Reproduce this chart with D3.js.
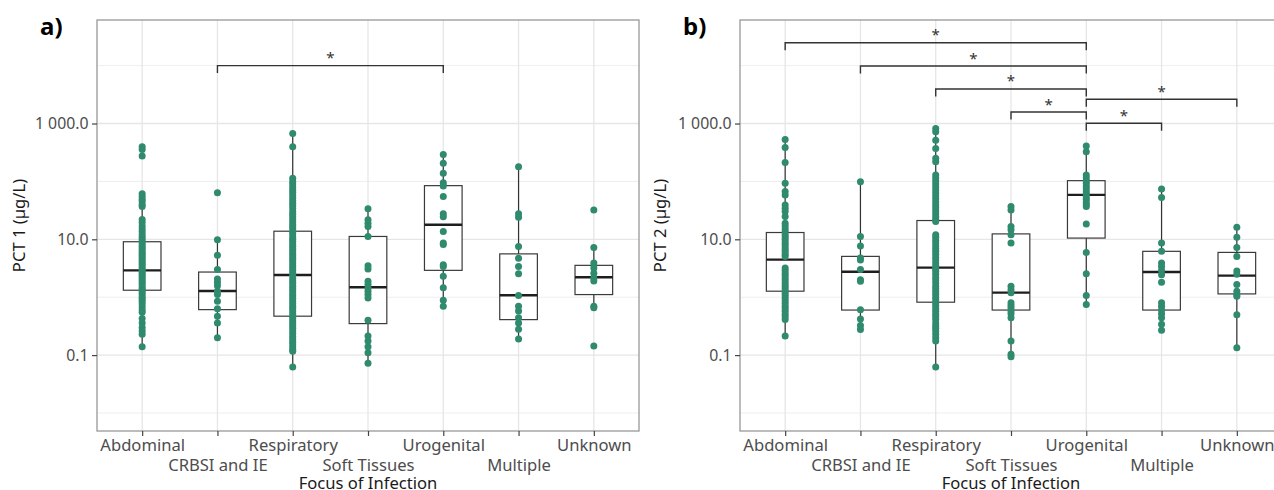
<!DOCTYPE html>
<html><head><meta charset="utf-8">
<script src="https://cdn.jsdelivr.net/npm/d3@7"></script>
<style>
body{margin:0;background:#fff}
svg{display:block}
text{font-family:"Noto Sans",sans-serif}
</style>
</head><body>
<svg id="chart" width="1274" height="490"></svg>
<script>
// ---------- categories & ticks ----------
const categories = ["Abdominal","CRBSI and IE","Respiratory","Soft Tissues","Urogenital","Multiple","Unknown"];
const yTickValues = [0.1, 10, 1000];
const yTickLabels = ["0.1", "10.0", "1 000.0"];
const yMinorValues = [0.01, 1, 100, 10000];

// ---------- PCT 1 points (µg/L) ----------
const pct1Abdominal = [396,357,274,61,55,49,45,40,37,22,19.5,17,15,13.5,12,10.8,9.8,9,8.3,7.6,7,6.4,5.9,5.5,5.1,4.7,4.3,4,3.7,3.4,3.1,2.9,2.7,2.5,2.3,2.1,1.95,1.8,1.65,1.5,1.4,1.3,1.2,1.1,1.0,0.92,0.84,0.76,0.68,0.6,0.55,0.43,0.36,0.3,0.26,0.23,0.14];
const pct1CRBSI = [64,9.8,5.3,3.0,2.07,1.81,1.58,1.27,1.11,0.85,0.63,0.47,0.36,0.2];
const pct1Respiratory = [673,396,113,100,90,80,72,65,58,52,47,42,38,34,30,27,24.5,22,20,18,16.5,15,13.5,12.3,11,10,9.2,8.3,7.6,6.9,6.3,5.7,5.2,4.7,4.3,3.9,3.5,3.2,2.9,2.6,2.4,2.1,1.9,1.75,1.55,1.4,1.28,1.15,1.05,0.95,0.86,0.78,0.7,0.64,0.58,0.52,0.47,0.43,0.39,0.35,0.32,0.29,0.26,0.235,0.21,0.19,0.17,0.155,0.14,0.125,0.117,0.062];
const pct1SoftTissues = [33.6,21.7,19,16.6,11.2,3.5,3.07,1.88,1.65,1.44,1.27,1.11,0.97,0.4,0.213,0.175,0.14,0.11,0.072];
const pct1Urogenital = [292,205,138,95,83,55,27.5,24.5,13.6,8.6,8.1,3.65,3.4,2.3,1.45,0.89,0.70];
const pct1Multiple = [180,27.5,24,7.5,4.7,3.4,2.55,1.07,0.70,0.58,0.44,0.36,0.28,0.19];
const pct1Unknown = [32,7.2,3.9,3.2,2.6,2.15,1.9,0.70,0.66,0.143];

// PCT 1 box statistics
const pct1Q1 = [1.32,0.61,0.47,0.35,2.91,0.41,1.11];
const pct1Median = [2.91,1.28,2.42,1.49,17.8,1.08,2.21];
const pct1Q3 = [9.08,2.72,13.8,11.2,84.5,5.6,3.55];
const pct1WhiskerLow = [0.143,0.20,0.062,0.072,0.70,0.19,0.70];
const pct1WhiskerHigh = [61,9.8,673,33.6,292,180,7.2];

// PCT 1 significance brackets
const pct1BracketFrom = ["CRBSI and IE"];
const pct1BracketTo = ["Urogenital"];
const pct1BracketLevel = [10000];
const pct1BracketLabel = ["*"];

// ---------- PCT 2 points (µg/L) ----------
const pct2Abdominal = [531,387,213,92.7,66.7,58.4,39.3,34.4,30.2,24.8,19,17,15,13.5,12,11,10,9,8.2,7.4,6.7,6.1,5.5,5.07,3.2,2.9,2.6,2.35,2.1,1.9,1.7,1.55,1.4,1.27,1.15,1.05,0.95,0.86,0.78,0.7,0.63,0.57,0.51,0.46,0.41,0.213];
const pct2CRBSI = [99,11.2,7.7,4.74,4.4,3.0,2.0,1.88,0.61,0.42,0.325,0.277];
const pct2Respiratory = [820,719,516,371,250,219,129,115,102,90,80,71,63,56,50,44,39,35,31,27.5,24.5,22,20.3,12,10.8,9.6,8.6,7.7,6.9,6.2,5.5,4.9,4.4,3.9,3.5,3.1,2.8,2.5,2.2,1.98,1.76,1.55,1.4,1.25,1.12,1.0,0.9,0.8,0.72,0.64,0.57,0.51,0.46,0.41,0.36,0.32,0.29,0.26,0.23,0.2,0.175,0.062];
const pct2SoftTissues = [36.8,32.2,16.6,14.6,12,8.6,1.55,1.35,1.19,0.8,0.72,0.65,0.58,0.52,0.44,0.175,0.103,0.094];
const pct2Urogenital = [407,325,129,115,102,92,82,74,66,60,54,49,44,40,36.8,18.3,5.94,2.55,1.07,0.75];
const pct2Multiple = [74,52.6,8.6,6.2,3.9,3.4,2.9,2.45,1.81,0.80,0.7,0.6,0.52,0.44,0.34,0.27];
const pct2Unknown = [16.2,10.8,7.2,5.07,2.84,2.48,1.65,1.27,1.11,1.04,0.50,0.134];

// PCT 2 box statistics
const pct2Q1 = [1.27,0.60,0.82,0.60,10.5,0.60,1.14];
const pct2Median = [4.45,2.76,3.24,1.2,58.5,2.72,2.36];
const pct2Q3 = [13.1,5.07,21.1,12.4,103,6.2,5.94];
const pct2WhiskerLow = [0.213,0.277,0.062,0.094,0.75,0.27,0.134];
const pct2WhiskerHigh = [531,99,820,36.8,407,74,16.2];

// PCT 2 significance brackets
const pct2BracketFrom = ["Abdominal","CRBSI and IE","Respiratory","Soft Tissues","Urogenital","Urogenital"];
const pct2BracketTo = ["Urogenital","Urogenital","Urogenital","Urogenital","Unknown","Multiple"];
const pct2BracketLevel = [24800,9840,3950,1580,2620,1010];
const pct2BracketLabel = ["*","*","*","*","*","*"];

// ---------- drawing ----------
const svg = d3.select("#chart");
svg.append("rect").attr("width",1274).attr("height",490).attr("fill","#fff");

const PLOT_W = 542, PLOT_TOP = 20, PLOT_BOTTOM = 431;
const dotColor = "#2f8a6e";

function drawPanel(cfg){
  const left = cfg.left;
  const x = d3.scalePoint().domain(categories).range([left, left + PLOT_W]).padding(0.6);
  const y = d3.scaleLog().domain([Math.pow(10,-2.311), Math.pow(10,4.788)]).range([PLOT_BOTTOM, PLOT_TOP]);
  const g = svg.append("g");

  // gridlines
  const grid = g.append("g");
  grid.selectAll(".minor").data(yMinorValues).join("line")
    .attr("x1",left).attr("x2",left+PLOT_W)
    .attr("y1",d=>y(d)).attr("y2",d=>y(d))
    .attr("stroke","#ececec").attr("stroke-width",0.9);
  grid.selectAll(".major").data(yTickValues).join("line")
    .attr("x1",left).attr("x2",left+PLOT_W)
    .attr("y1",d=>y(d)).attr("y2",d=>y(d))
    .attr("stroke","#e6e6e6").attr("stroke-width",1.3);
  grid.selectAll(".vmajor").data(categories).join("line")
    .attr("x1",d=>x(d)).attr("x2",d=>x(d))
    .attr("y1",PLOT_TOP).attr("y2",PLOT_BOTTOM)
    .attr("stroke","#e6e6e6").attr("stroke-width",1.3);

  // boxes
  const bw = x.step()*0.5;
  categories.forEach((c,i)=>{
    const cx = x(c);
    const bg = g.append("g");
    bg.append("line").attr("x1",cx).attr("x2",cx)
      .attr("y1",y(cfg.hi[i])).attr("y2",y(cfg.q3[i]))
      .attr("stroke","#333").attr("stroke-width",1.2);
    bg.append("line").attr("x1",cx).attr("x2",cx)
      .attr("y1",y(cfg.q1[i])).attr("y2",y(cfg.lo[i]))
      .attr("stroke","#333").attr("stroke-width",1.2);
    bg.append("rect").attr("x",cx-bw/2).attr("width",bw)
      .attr("y",y(cfg.q3[i])).attr("height",y(cfg.q1[i])-y(cfg.q3[i]))
      .attr("fill","#fff").attr("stroke","#3a3a3a").attr("stroke-width",1.2);
    bg.append("line").attr("x1",cx-bw/2).attr("x2",cx+bw/2)
      .attr("y1",y(cfg.med[i])).attr("y2",y(cfg.med[i]))
      .attr("stroke","#1e1e1e").attr("stroke-width",2.4);
  });

  // points
  categories.forEach((c,i)=>{
    g.append("g").selectAll("circle").data(cfg.points[i]).join("circle")
      .attr("cx",x(c)).attr("cy",d=>y(d)).attr("r",3.5)
      .attr("fill",dotColor);
  });

  // border
  g.append("rect").attr("x",left).attr("y",PLOT_TOP)
    .attr("width",PLOT_W).attr("height",PLOT_BOTTOM-PLOT_TOP)
    .attr("fill","none").attr("stroke","#8f8f8f").attr("stroke-width",1.2);

  // brackets
  cfg.bFrom.forEach((f,i)=>{
    const x1 = x(f), x2 = x(cfg.bTo[i]), yy = y(cfg.bLevel[i]);
    g.append("path")
      .attr("d",`M${x1},${yy+7.5}V${yy}H${x2}V${yy+7.5}`)
      .attr("fill","none").attr("stroke","#333").attr("stroke-width",1.4);
    g.append("text").attr("x",(x1+x2)/2).attr("y",yy-2.5)
      .attr("text-anchor","middle").attr("font-size",15).attr("fill","#333")
      .text(cfg.bLabel[i]);
  });

  // y axis
  const ya = g.append("g").attr("transform",`translate(${left},0)`)
    .call(d3.axisLeft(y).tickValues(yTickValues).tickFormat((d,i)=>yTickLabels[i]).tickSize(5).tickPadding(3.5));
  ya.select(".domain").remove();
  ya.selectAll(".tick line").attr("stroke","#444").attr("stroke-width",1.2);
  ya.selectAll(".tick text").attr("font-size",15.8).attr("fill","#4d4d4d")
    .style("font-family",'"Noto Sans",sans-serif');

  // x axis (dodged labels)
  const xa = g.append("g").attr("transform",`translate(0,${PLOT_BOTTOM})`)
    .call(d3.axisBottom(x).tickSize(5).tickPadding(3.3));
  xa.select(".domain").remove();
  xa.selectAll(".tick line").attr("stroke","#444").attr("stroke-width",1.2);
  xa.selectAll(".tick text").attr("font-size",16.6).attr("fill","#4d4d4d")
    .style("font-family",'"Noto Sans",sans-serif')
    .attr("y",(d,i)=> i%2===0 ? 8.3 : 28.3);

  // axis titles
  g.append("text").attr("x",left+PLOT_W/2).attr("y",489)
    .attr("text-anchor","middle").attr("font-size",16.6).attr("fill","#1a1a1a")
    .text("Focus of Infection");
  g.append("text").attr("transform",`translate(${cfg.yTitleX},${(PLOT_TOP+PLOT_BOTTOM)/2}) rotate(-90)`)
    .attr("text-anchor","middle").attr("font-size",16.6).attr("fill","#1a1a1a")
    .text(cfg.yTitle);

  // panel tag
  svg.append("text").attr("x",cfg.tagX).attr("y",35)
    .attr("font-size",24).attr("font-weight","bold").attr("fill","#000")
    .text(cfg.tag);
}

drawPanel({
  left: 97, yTitleX: 25, tagX: 40, tag: "a)", yTitle: "PCT 1 (µg/L)",
  points: [pct1Abdominal,pct1CRBSI,pct1Respiratory,pct1SoftTissues,pct1Urogenital,pct1Multiple,pct1Unknown],
  q1: pct1Q1, med: pct1Median, q3: pct1Q3, lo: pct1WhiskerLow, hi: pct1WhiskerHigh,
  bFrom: pct1BracketFrom, bTo: pct1BracketTo, bLevel: pct1BracketLevel, bLabel: pct1BracketLabel
});
drawPanel({
  left: 740, yTitleX: 666, tagX: 683, tag: "b)", yTitle: "PCT 2 (µg/L)",
  points: [pct2Abdominal,pct2CRBSI,pct2Respiratory,pct2SoftTissues,pct2Urogenital,pct2Multiple,pct2Unknown],
  q1: pct2Q1, med: pct2Median, q3: pct2Q3, lo: pct2WhiskerLow, hi: pct2WhiskerHigh,
  bFrom: pct2BracketFrom, bTo: pct2BracketTo, bLevel: pct2BracketLevel, bLabel: pct2BracketLabel
});
</script>
</body></html>
